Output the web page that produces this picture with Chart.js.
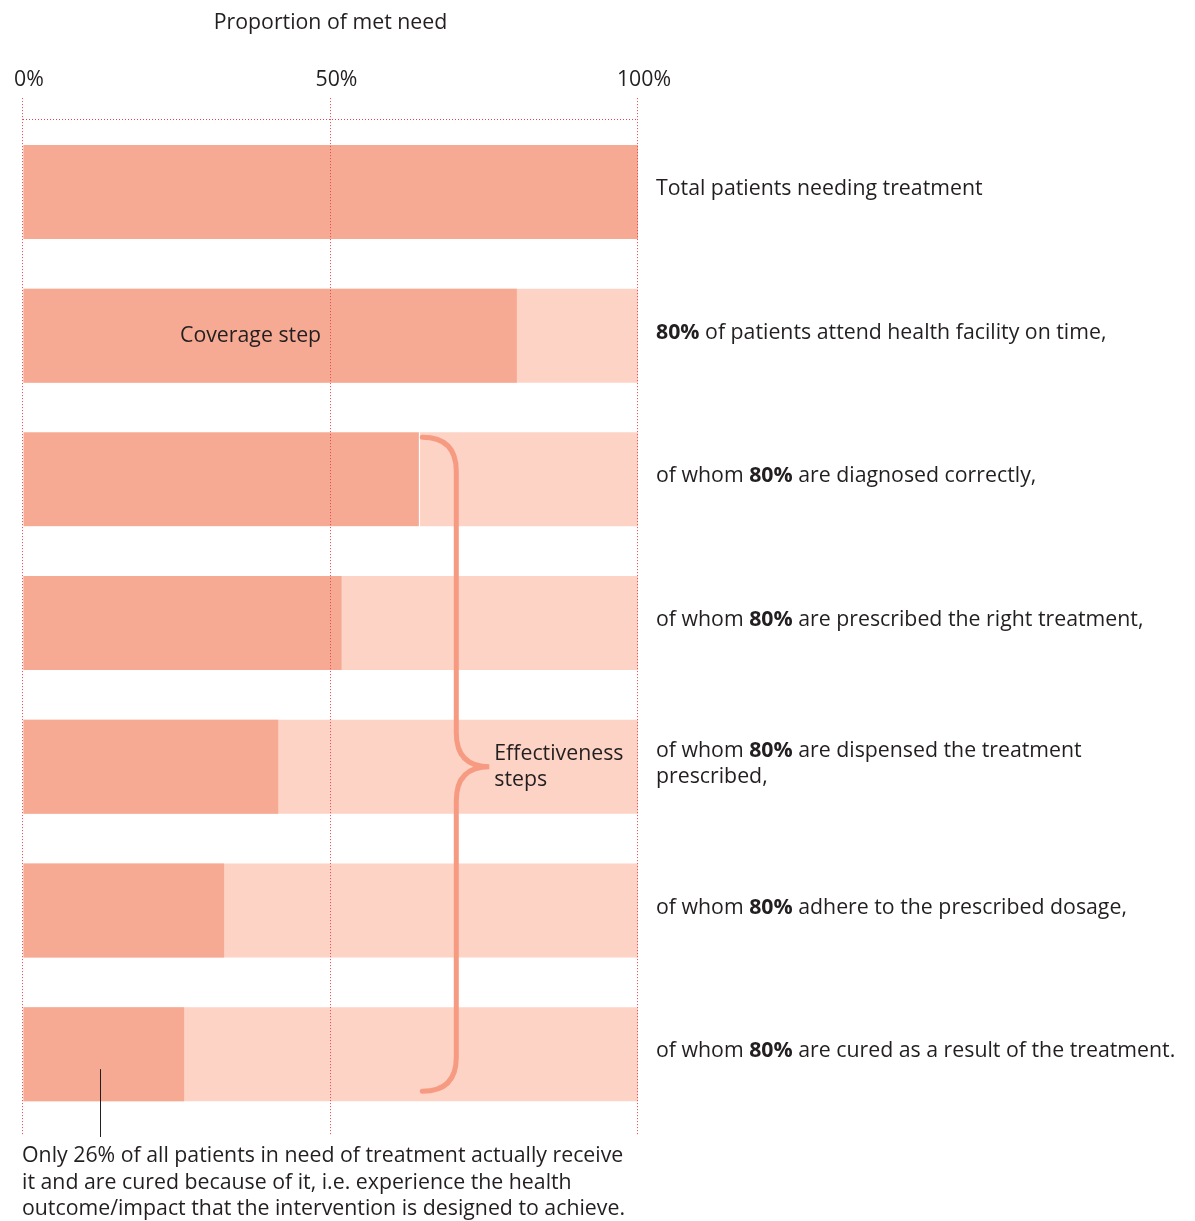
<!DOCTYPE html>
<html>
<head>
<meta charset="utf-8">
<script src="https://cdn.jsdelivr.net/npm/chart.js@4"></script>
<style>
  html, body { margin: 0; padding: 0; background: #fff; }
  #wrap { width: 1195px; height: 1221px; position: relative; }
</style>
</head>
<body>
<div id="wrap"><canvas id="myChart"></canvas></div>
<script>
// Chart data
var steps = ['Total', 'Attend', 'Diagnosed', 'Prescribed', 'Dispensed', 'Adhere', 'Cured'];
var metNeed = [100, 80.3, 64.6, 51.8, 41.5, 32.7, 26.2];
var fullNeed = [100, 100, 100, 100, 100, 100, 100];
var xTicks = [0, 50, 100];

// Right-hand labels: [before bold, bold, after bold] per line
var rowText = [
    [['Total patients needing treatment', '', '']],
    [['', '80%', ' of patients attend health facility on time,']],
    [['of whom ', '80%', ' are diagnosed correctly,']],
    [['of whom ', '80%', ' are prescribed the right treatment,']],
    [['of whom ', '80%', ' are dispensed the treatment'], ['prescribed,', '', '']],
    [['of whom ', '80%', ' adhere to the prescribed dosage,']],
    [['of whom ', '80%', ' are cured as a result of the treatment.']]
];
var coverageLabel = 'Coverage step';
var effectivenessLabel = ['Effectiveness', 'steps'];
var noteLines = [
    'Only 26% of all patients in need of treatment actually receive',
    'it and are cured because of it, i.e. experience the health',
    'outcome/impact that the intervention is designed to achieve.'
];

var FONT = '"Open Sans", Lato, sans-serif';
var FS = 21.3;
var TEXT = '#231f20';
var DARK = '#f7aa93';
var LIGHT = '#fcd3c5';
var BRACE = '#f79a82';
var GRID = '#e8414f';

var ctx = document.getElementById('myChart').getContext('2d');

// Dotted red grid drawn over the bars, from the tick marks to below the area
var dottedGrid = {
    id: 'dottedGrid',
    afterDatasetsDraw: function (chart) {
        var c = chart.ctx;
        var x = chart.scales.x;
        var area = chart.chartArea;
        c.save();
        c.strokeStyle = GRID;
        c.lineWidth = 1;
        c.setLineDash([1, 2]);
        var ty = Math.round(area.top) - 0.5;
        c.beginPath();
        c.moveTo(area.left, ty);
        c.lineTo(area.right, ty);
        c.stroke();
        xTicks.forEach(function (t) {
            var px = Math.round(x.getPixelForValue(t)) - 0.5;
            c.beginPath();
            c.moveTo(px, area.top - 22);
            c.lineTo(px, area.bottom + 10);
            c.stroke();
        });
        c.restore();
    }
};

// Draws labels, brace and the note on top of the bars
var extras = {
    id: 'extras',
    afterDraw: function (chart) {
        var c = chart.ctx;
        var x = chart.scales.x;
        var y = chart.scales.y;
        var area = chart.chartArea;
        var meta = chart.getDatasetMeta(0);
        c.save();

        // right-hand labels
        c.fillStyle = TEXT;
        c.textBaseline = 'middle';
        c.textAlign = 'left';
        var lx = x.getPixelForValue(100) + 18;
        rowText.forEach(function (lines, i) {
            var cy = y.getPixelForValue(i) - 3;
            var lh = 26;
            var y0 = cy - (lines.length - 1) * lh / 2;
            lines.forEach(function (parts, j) {
                var px = lx;
                var py = y0 + j * lh;
                c.font = FS + 'px ' + FONT;
                c.fillText(parts[0], px, py);
                px += c.measureText(parts[0]).width;
                c.font = 'bold ' + FS + 'px ' + FONT;
                c.fillText(parts[1], px, py);
                px += c.measureText(parts[1]).width;
                c.font = FS + 'px ' + FONT;
                c.fillText(parts[2], px, py);
            });
        });

        // coverage step label inside bar 2
        c.font = FS + 'px ' + FONT;
        c.textAlign = 'center';
        c.fillText(coverageLabel, x.getPixelForValue(37), y.getPixelForValue(1));

        // curly brace spanning the effectiveness steps
        var b3 = meta.data[2];
        var b7 = meta.data[6];
        var b5 = meta.data[4];
        var top = b3.y - b3.height / 2 + 5;
        var bot = b7.y + b7.height / 2 - 10;
        var mid = b5.y;
        var x0 = b3.x + 2;
        var xs = x0 + 34;
        var xt = xs + 33;
        var r = 34;
        c.strokeStyle = BRACE;
        c.lineWidth = 5;
        c.lineCap = 'round';
        c.beginPath();
        c.moveTo(x0, top);
        c.quadraticCurveTo(xs, top, xs, top + r);
        c.lineTo(xs, mid - r);
        c.quadraticCurveTo(xs, mid, xt, mid);
        c.quadraticCurveTo(xs, mid, xs, mid + r);
        c.lineTo(xs, bot - r);
        c.quadraticCurveTo(xs, bot, x0, bot);
        c.stroke();

        // effectiveness label
        c.textAlign = 'left';
        c.fillStyle = TEXT;
        c.fillText(effectivenessLabel[0], xt + 5, mid - 13);
        c.fillText(effectivenessLabel[1], xt + 5, mid + 13);

        // pointer line and note under the last bar
        var px = Math.round(x.getPixelForValue(12.5)) + 0.5;
        c.strokeStyle = '#231f20';
        c.lineWidth = 1;
        c.lineCap = 'butt';
        c.beginPath();
        c.moveTo(px, b7.y + 15);
        c.lineTo(px, area.bottom + 11);
        c.stroke();
        noteLines.forEach(function (t, i) {
            c.fillText(t, x.getPixelForValue(0) - 1, area.bottom + 30 + i * 26.5);
        });
        c.restore();
    }
};

var chartConfig = {
    type: 'bar',
    data: {
        labels: steps,
        datasets: [{
            label: 'Met need',
            data: metNeed,
            backgroundColor: DARK,
            borderColor: '#ffffff',
            borderSkipped: false,
            borderWidth: function (c) {
                return c.dataIndex === 2 ? { top: 0, bottom: 0, left: 0, right: 1.5 } : 0;
            },
            grouped: false,
            categoryPercentage: 1,
            barPercentage: 0.654
        }, {
            label: 'Total need',
            data: fullNeed,
            backgroundColor: LIGHT,
            borderWidth: 0,
            grouped: false,
            categoryPercentage: 1,
            barPercentage: 0.654
        }]
    },
    options: {
        indexAxis: 'y',
        responsive: true,
        maintainAspectRatio: false,
        animation: false,
        layout: {
            padding: { left: 23, right: 557, top: 10, bottom: 95 }
        },
        plugins: {
            legend: { display: false },
            tooltip: { enabled: false }
        },
        scales: {
            x: {
                position: 'top',
                min: 0,
                max: 100,
                afterBuildTicks: function (axis) {
                    axis.ticks = xTicks.map(function (v) { return { value: v }; });
                },
                ticks: {
                    color: TEXT,
                    font: { family: FONT, size: FS },
                    padding: 5,
                    labelOffset: 6,
                    maxRotation: 0,
                    callback: function (v) { return v + '%'; }
                },
                grid: {
                    color: 'rgba(0,0,0,0)',
                    tickLength: 22
                },
                border: { display: false },
                title: {
                    display: true,
                    text: 'Proportion of met need',
                    color: TEXT,
                    font: { family: FONT, size: FS },
                    padding: { top: 0, bottom: 27 }
                }
            },
            y: {
                display: false,
                grid: { display: false }
            }
        }
    },
    plugins: [dottedGrid, extras]
};

var chart = new Chart(ctx, chartConfig);
</script>
</body>
</html>
